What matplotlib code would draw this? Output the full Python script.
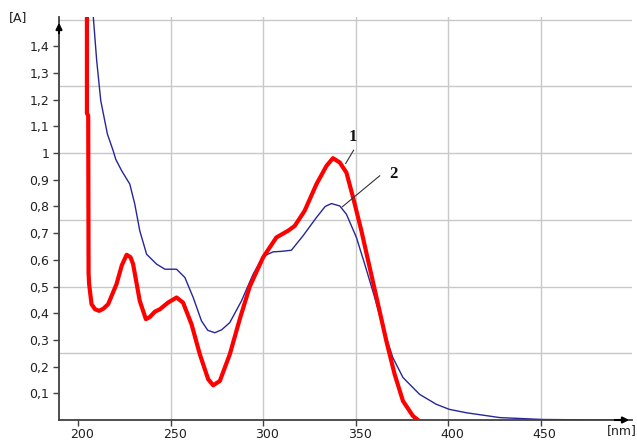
import matplotlib
matplotlib.use("Agg")
import matplotlib.pyplot as plt
import matplotlib.transforms as mtransforms

# Curve 1 (red, thick)
wl1 = [204.6, 204.6, 205.3, 205.5, 205.8, 207.1, 209.0, 211.2, 213.5, 216.1, 220.6, 223.5, 226.1, 228.2,
       229.6, 233.2, 236.5, 238.5, 241.4, 244.1, 248.5, 253.1, 256.6, 261.2, 265.7, 270.2, 272.9,
       276.5, 281.9, 287.3, 292.7, 299.9, 307.1, 313.4, 317.0, 322.4, 328.8, 334.2, 337.7, 341.4,
       345.0, 348.6, 353.1, 357.6, 362.1, 366.6, 371.1, 375.6, 381.0, 383.7]
ab1 = [1.60, 1.15, 1.14, 0.55, 0.509, 0.434, 0.415, 0.409, 0.417, 0.434, 0.509, 0.580, 0.619, 0.610,
       0.584, 0.446, 0.378, 0.385, 0.406, 0.415, 0.440, 0.459, 0.440, 0.359, 0.246, 0.153, 0.130,
       0.146, 0.246, 0.378, 0.500, 0.609, 0.684, 0.709, 0.727, 0.784, 0.884, 0.952, 0.981, 0.965,
       0.927, 0.834, 0.709, 0.571, 0.434, 0.296, 0.171, 0.071, 0.015, 0.0]

# Curve 2 (blue, thin)
wl2 = [207.9, 208.1, 209.9, 212.1, 215.7, 218.8, 220.2, 223.4, 227.8, 230.5, 233.2, 236.9, 242.3,
       246.8, 253.1, 257.6, 262.1, 266.6, 270.0, 273.8, 277.5, 281.9, 288.2, 294.5, 299.9, 305.3,
       310.0, 315.2, 321.5, 328.8, 333.5, 336.9, 341.4, 345.0, 350.4, 354.9, 360.3, 364.8, 370.1,
       375.6, 384.6, 393.6, 400.6, 410.0, 428.0, 451.0, 483.0, 490.0]
ab2 = [1.60, 1.506, 1.346, 1.196, 1.071, 1.009, 0.977, 0.934, 0.884, 0.809, 0.709, 0.621, 0.584,
       0.565, 0.565, 0.534, 0.459, 0.371, 0.336, 0.327, 0.338, 0.365, 0.446, 0.546, 0.613, 0.630,
       0.632, 0.636, 0.690, 0.759, 0.800, 0.811, 0.802, 0.771, 0.684, 0.584, 0.459, 0.346, 0.234,
       0.159, 0.096, 0.059, 0.040, 0.027, 0.009, 0.002, 0.0, 0.0]

xticks = [200, 250, 300, 350, 400, 450]
xgrid = [250, 300, 350, 400, 450]
yticks = [0.1, 0.2, 0.3, 0.4, 0.5, 0.6, 0.7, 0.8, 0.9, 1.0, 1.1, 1.2, 1.3, 1.4]
ygrid = [0.25, 0.5, 0.75, 1.0, 1.25, 1.5]

def fmt(v):
    s = ("%.1f" % v).replace(".", ",")
    return "1" if s == "1,0" else s

fig = plt.figure(figsize=(6.37, 4.40), dpi=100)
ax = fig.add_axes([59/637, 1-420/440, (632-59)/637, (420-17)/440])
ax.set_xlim(189.5, 499.5)
ax.set_ylim(0, 1.51)

for g in xgrid:
    ax.axvline(g, color="#c8c8c8", lw=1.0, zorder=0)
for g in ygrid:
    ax.axhline(g, color="#c8c8c8", lw=1.0, zorder=0)

ax.plot(wl2, ab2, color="#26269a", lw=1.0, zorder=2, clip_on=True)
ax.plot(wl1, ab1, color="#ff0000", lw=3.0, zorder=3, clip_on=True, solid_joinstyle="round")

ax.set_xticks(xticks)
ax.set_xticklabels([str(t) for t in xticks])
ax.set_yticks(yticks)
ax.set_yticklabels([fmt(t) for t in yticks])
ax.tick_params(axis="both", direction="out", length=4, width=1, color="#404040",
               labelsize=9, labelcolor="#202020")
ax.tick_params(axis="x", pad=1.5)
ax.tick_params(axis="y", pad=3)
offset = mtransforms.ScaledTranslation(4/100, 0, fig.dpi_scale_trans)
for lbl in ax.get_xticklabels():
    lbl.set_transform(lbl.get_transform() + offset)

for s in ["top", "right"]:
    ax.spines[s].set_visible(False)
for s in ["left", "bottom"]:
    ax.spines[s].set_color("#404040")
    ax.spines[s].set_linewidth(1.3)

# axis arrows
ax.annotate("", xy=(59/637, 1-20/440), xytext=(59/637, 1-36/440), xycoords="figure fraction",
            arrowprops=dict(arrowstyle="-|>", color="black", lw=1.5, mutation_scale=9))
ax.annotate("", xy=(632/637, 1-420/440), xytext=(612/637, 1-420/440), xycoords="figure fraction",
            arrowprops=dict(arrowstyle="-|>", color="black", lw=1.5, mutation_scale=9))

fig.text(18/637, 1-18/440, "[A]", fontsize=9, color="#202020", ha="center", va="center")
fig.text(622/637, 1-431/440, "[nm]", fontsize=9, color="#202020", ha="center", va="center")

# labels
ax.plot([344.6, 348.9], [0.961, 1.011], color="#333333", lw=0.8, zorder=4)
ax.text(348.2, 1.061, "1", fontsize=12, fontweight="bold", family="Liberation Serif",
        ha="center", va="center", color="#111111")
ax.plot([342.8, 363.0], [0.799, 0.915], color="#333333", lw=0.8, zorder=4)
ax.text(370.2, 0.923, "2", fontsize=12, fontweight="bold", family="Liberation Serif",
        ha="center", va="center", color="#111111")

fig.savefig("out.png", dpi=100)
